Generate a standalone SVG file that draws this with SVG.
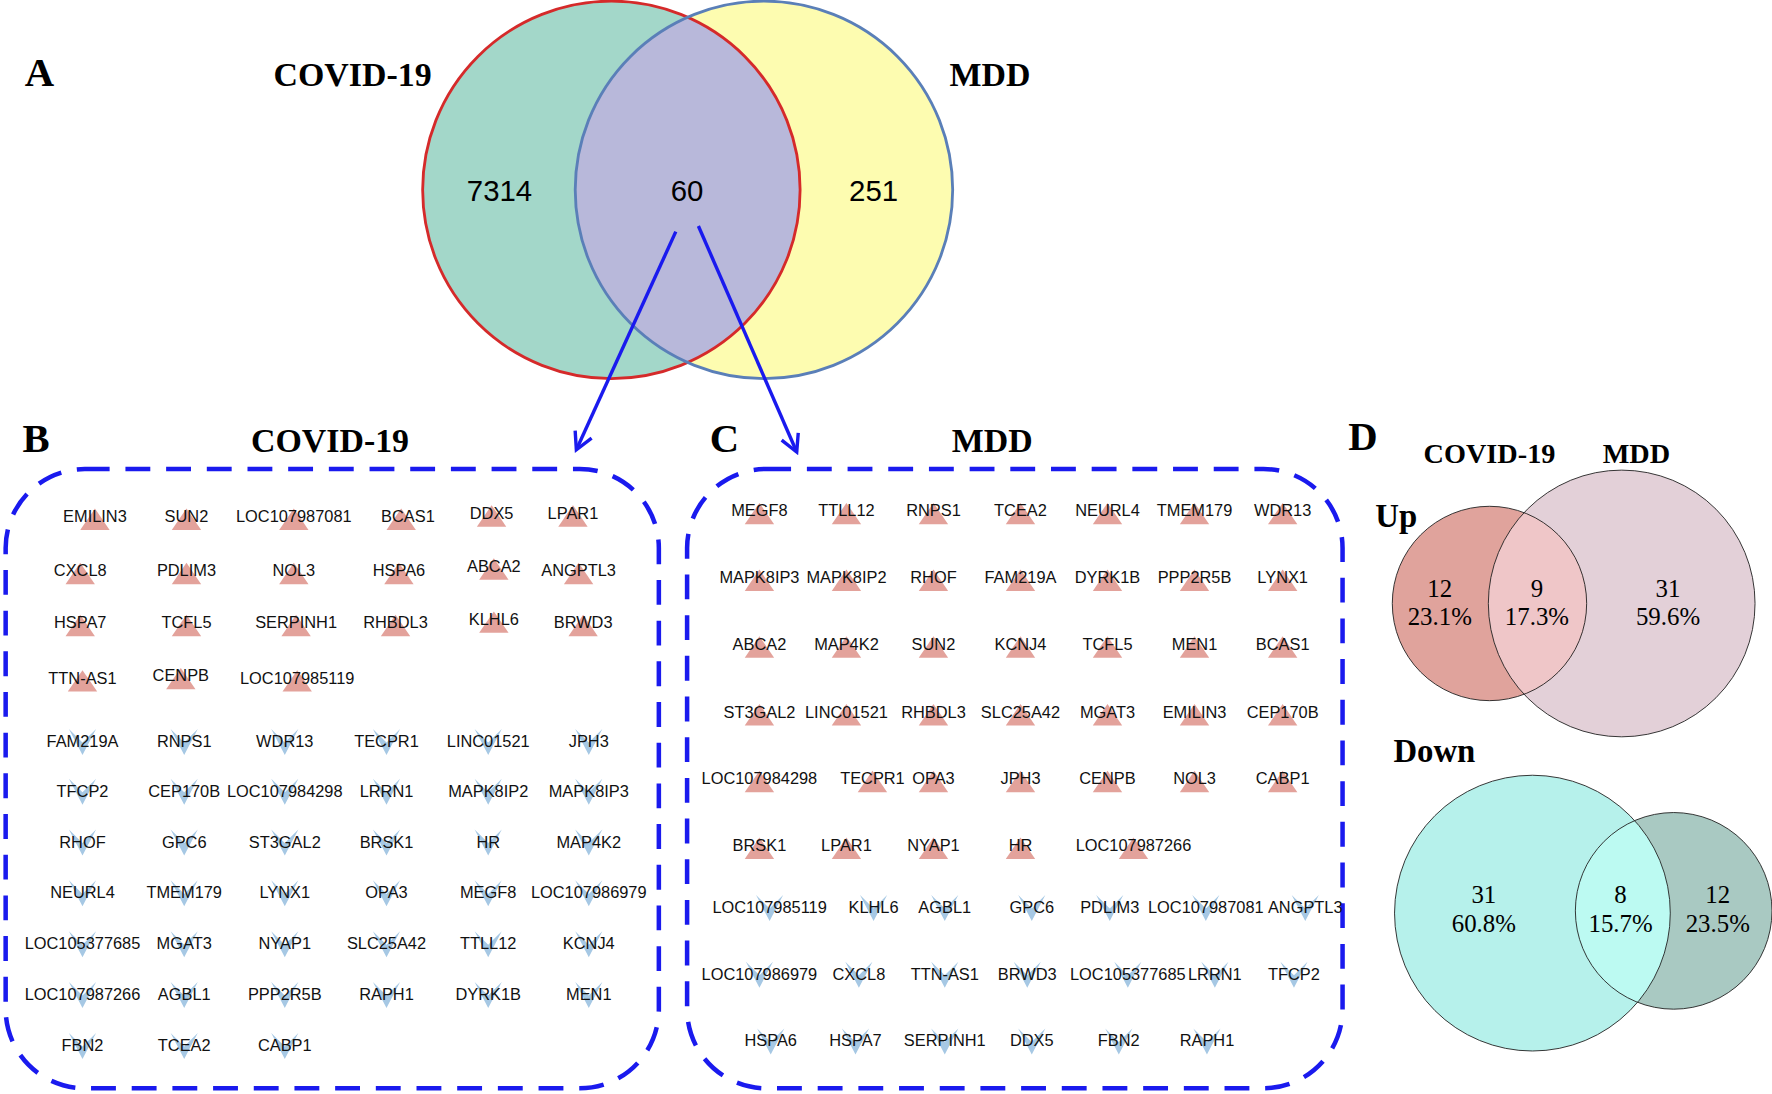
<svg xmlns="http://www.w3.org/2000/svg" xmlns:xlink="http://www.w3.org/1999/xlink" width="1772" height="1094" viewBox="0 0 1772 1094">
<style>
.lbl{font-family:"Liberation Serif",serif;font-weight:bold;fill:#000}
.num{font-family:"Liberation Sans",Arial,sans-serif;font-size:26px;text-anchor:middle}
.g{font-family:"Liberation Sans",Arial,sans-serif;font-size:14.5px;text-anchor:middle;fill:#111}
.d{font-family:"Liberation Serif",serif;font-size:22px;text-anchor:middle}
.box{fill:none;stroke:#1a1aee;stroke-width:4;stroke-dasharray:22 14}
.tri{fill:#e3a29b}
.dn{fill:#a6c8e4}
.vc{stroke:#222;stroke-width:0.8}
</style>
<defs>
<path id="t" class="tri" d="M0,-7 L13,12 L-13,12Z"/>
<path id="v" class="dn" d="M-12,-11 L0,12 L12,-11 L0,1Z"/>
<marker id="ah" markerWidth="20" markerHeight="20" refX="17" refY="10" orient="auto" markerUnits="userSpaceOnUse">
<path d="M2,2 L17,10 L2,18" fill="none" stroke="#1a1aee" stroke-width="3"/>
</marker>
<clipPath id="cA"><circle cx="541" cy="168" r="167"/></clipPath>
<clipPath id="cU"><circle cx="1318" cy="534" r="86"/></clipPath>
<clipPath id="cD"><circle cx="1356" cy="808" r="122"/></clipPath>
</defs>
<rect width="1772" height="1094" fill="#fff"/>
<g transform="scale(1.1301)">
<g id="panelA">
<text class="lbl" x="22" y="76" font-size="36">A</text>
<circle cx="541" cy="168" r="167" fill="#a3d7c9"/>
<circle cx="676" cy="168" r="167" fill="#fdfcb0"/>
<circle cx="676" cy="168" r="167" fill="#b8b8da" clip-path="url(#cA)"/>
<circle cx="541" cy="168" r="167" fill="none" stroke="#d52a2a" stroke-width="2.5"/>
<circle cx="676" cy="168" r="167" fill="none" stroke="#5a7fb8" stroke-width="2.5"/>
<text class="lbl" x="312" y="76" font-size="30" text-anchor="middle">COVID-19</text>
<text class="lbl" x="876" y="76" font-size="30" text-anchor="middle">MDD</text>
<text class="num" x="442" y="178">7314</text>
<text class="num" x="608" y="178">60</text>
<text class="num" x="773" y="178">251</text>
</g>
<g id="connectors" stroke="#1a1aee" stroke-width="3" fill="none">
<line x1="598" y1="205" x2="510" y2="398" marker-end="url(#ah)"/>
<line x1="618" y1="200" x2="705" y2="400" marker-end="url(#ah)"/>
</g>
<g id="panelB">
<text class="lbl" x="20" y="400" font-size="36">B</text>
<text class="lbl" x="292" y="400" font-size="30" text-anchor="middle">COVID-19</text>
<rect class="box" x="5" y="415" width="578" height="548" rx="70"/>
<g>
<use href="#t" x="84" y="457"/><use href="#t" x="165" y="457"/><use href="#t" x="260" y="457"/><use href="#t" x="355" y="457"/><use href="#t" x="435" y="454"/><use href="#t" x="507" y="454"/>
<use href="#t" x="71" y="505"/><use href="#t" x="165" y="505"/><use href="#t" x="260" y="505"/><use href="#t" x="353" y="505"/><use href="#t" x="437" y="501"/><use href="#t" x="512" y="505"/>
<use href="#t" x="71" y="551"/><use href="#t" x="165" y="551"/><use href="#t" x="262" y="551"/><use href="#t" x="350" y="551"/><use href="#t" x="437" y="548"/><use href="#t" x="516" y="551"/>
<use href="#t" x="73" y="600"/><use href="#t" x="160" y="598"/><use href="#t" x="263" y="600"/>
</g>
<g class="g">
<text x="84" y="462">EMILIN3</text><text x="165" y="462">SUN2</text><text x="260" y="462">LOC107987081</text><text x="361" y="462">BCAS1</text><text x="435" y="459">DDX5</text><text x="507" y="459">LPAR1</text>
<text x="71" y="510">CXCL8</text><text x="165" y="510">PDLIM3</text><text x="260" y="510">NOL3</text><text x="353" y="510">HSPA6</text><text x="437" y="506">ABCA2</text><text x="512" y="510">ANGPTL3</text>
<text x="71" y="556">HSPA7</text><text x="165" y="556">TCFL5</text><text x="262" y="556">SERPINH1</text><text x="350" y="556">RHBDL3</text><text x="437" y="553">KLHL6</text><text x="516" y="556">BRWD3</text>
<text x="73" y="605">TTN-AS1</text><text x="160" y="603">CENPB</text><text x="263" y="605">LOC107985119</text>
</g>
<g>
<use href="#v" x="73" y="656"/><use href="#v" x="163" y="656"/><use href="#v" x="252" y="656"/><use href="#v" x="342" y="656"/><use href="#v" x="432" y="656"/><use href="#v" x="521" y="656"/>
<use href="#v" x="73" y="700"/><use href="#v" x="163" y="700"/><use href="#v" x="252" y="700"/><use href="#v" x="342" y="700"/><use href="#v" x="432" y="700"/><use href="#v" x="521" y="700"/>
<use href="#v" x="73" y="745"/><use href="#v" x="163" y="745"/><use href="#v" x="252" y="745"/><use href="#v" x="342" y="745"/><use href="#v" x="432" y="745"/><use href="#v" x="521" y="745"/>
<use href="#v" x="73" y="790"/><use href="#v" x="163" y="790"/><use href="#v" x="252" y="790"/><use href="#v" x="342" y="790"/><use href="#v" x="432" y="790"/><use href="#v" x="521" y="790"/>
<use href="#v" x="73" y="835"/><use href="#v" x="163" y="835"/><use href="#v" x="252" y="835"/><use href="#v" x="342" y="835"/><use href="#v" x="432" y="835"/><use href="#v" x="521" y="835"/>
<use href="#v" x="73" y="880"/><use href="#v" x="163" y="880"/><use href="#v" x="252" y="880"/><use href="#v" x="342" y="880"/><use href="#v" x="432" y="880"/><use href="#v" x="521" y="880"/>
<use href="#v" x="73" y="925"/><use href="#v" x="163" y="925"/><use href="#v" x="252" y="925"/>
</g>
<g class="g">
<text x="73" y="661">FAM219A</text><text x="163" y="661">RNPS1</text><text x="252" y="661">WDR13</text><text x="342" y="661">TECPR1</text><text x="432" y="661">LINC01521</text><text x="521" y="661">JPH3</text>
<text x="73" y="705">TFCP2</text><text x="163" y="705">CEP170B</text><text x="252" y="705">LOC107984298</text><text x="342" y="705">LRRN1</text><text x="432" y="705">MAPK8IP2</text><text x="521" y="705">MAPK8IP3</text>
<text x="73" y="750">RHOF</text><text x="163" y="750">GPC6</text><text x="252" y="750">ST3GAL2</text><text x="342" y="750">BRSK1</text><text x="432" y="750">HR</text><text x="521" y="750">MAP4K2</text>
<text x="73" y="795">NEURL4</text><text x="163" y="795">TMEM179</text><text x="252" y="795">LYNX1</text><text x="342" y="795">OPA3</text><text x="432" y="795">MEGF8</text><text x="521" y="795">LOC107986979</text>
<text x="73" y="840">LOC105377685</text><text x="163" y="840">MGAT3</text><text x="252" y="840">NYAP1</text><text x="342" y="840">SLC25A42</text><text x="432" y="840">TTLL12</text><text x="521" y="840">KCNJ4</text>
<text x="73" y="885">LOC107987266</text><text x="163" y="885">AGBL1</text><text x="252" y="885">PPP2R5B</text><text x="342" y="885">RAPH1</text><text x="432" y="885">DYRK1B</text><text x="521" y="885">MEN1</text>
<text x="73" y="930">FBN2</text><text x="163" y="930">TCEA2</text><text x="252" y="930">CABP1</text>
</g>
</g>
<g id="panelC">
<text class="lbl" x="628" y="400" font-size="36">C</text>
<text class="lbl" x="878" y="400" font-size="30" text-anchor="middle">MDD</text>
<rect class="box" x="608" y="415" width="580" height="548" rx="70"/>
<g>
<use href="#t" x="672" y="452"/><use href="#t" x="749" y="452"/><use href="#t" x="826" y="452"/><use href="#t" x="903" y="452"/><use href="#t" x="980" y="452"/><use href="#t" x="1057" y="452"/><use href="#t" x="1135" y="452"/>
<use href="#t" x="672" y="511"/><use href="#t" x="749" y="511"/><use href="#t" x="826" y="511"/><use href="#t" x="903" y="511"/><use href="#t" x="980" y="511"/><use href="#t" x="1057" y="511"/><use href="#t" x="1135" y="511"/>
<use href="#t" x="672" y="570"/><use href="#t" x="749" y="570"/><use href="#t" x="826" y="570"/><use href="#t" x="903" y="570"/><use href="#t" x="980" y="570"/><use href="#t" x="1057" y="570"/><use href="#t" x="1135" y="570"/>
<use href="#t" x="672" y="630"/><use href="#t" x="749" y="630"/><use href="#t" x="826" y="630"/><use href="#t" x="903" y="630"/><use href="#t" x="980" y="630"/><use href="#t" x="1057" y="630"/><use href="#t" x="1135" y="630"/>
<use href="#t" x="672" y="689"/><use href="#t" x="772" y="689"/><use href="#t" x="826" y="689"/><use href="#t" x="903" y="689"/><use href="#t" x="980" y="689"/><use href="#t" x="1057" y="689"/><use href="#t" x="1135" y="689"/>
<use href="#t" x="672" y="748"/><use href="#t" x="749" y="748"/><use href="#t" x="826" y="748"/><use href="#t" x="903" y="748"/><use href="#t" x="1003" y="748"/>
</g>
<g class="g">
<text x="672" y="457">MEGF8</text><text x="749" y="457">TTLL12</text><text x="826" y="457">RNPS1</text><text x="903" y="457">TCEA2</text><text x="980" y="457">NEURL4</text><text x="1057" y="457">TMEM179</text><text x="1135" y="457">WDR13</text>
<text x="672" y="516">MAPK8IP3</text><text x="749" y="516">MAPK8IP2</text><text x="826" y="516">RHOF</text><text x="903" y="516">FAM219A</text><text x="980" y="516">DYRK1B</text><text x="1057" y="516">PPP2R5B</text><text x="1135" y="516">LYNX1</text>
<text x="672" y="575">ABCA2</text><text x="749" y="575">MAP4K2</text><text x="826" y="575">SUN2</text><text x="903" y="575">KCNJ4</text><text x="980" y="575">TCFL5</text><text x="1057" y="575">MEN1</text><text x="1135" y="575">BCAS1</text>
<text x="672" y="635">ST3GAL2</text><text x="749" y="635">LINC01521</text><text x="826" y="635">RHBDL3</text><text x="903" y="635">SLC25A42</text><text x="980" y="635">MGAT3</text><text x="1057" y="635">EMILIN3</text><text x="1135" y="635">CEP170B</text>
<text x="672" y="694">LOC107984298</text><text x="772" y="694">TECPR1</text><text x="826" y="694">OPA3</text><text x="903" y="694">JPH3</text><text x="980" y="694">CENPB</text><text x="1057" y="694">NOL3</text><text x="1135" y="694">CABP1</text>
<text x="672" y="753">BRSK1</text><text x="749" y="753">LPAR1</text><text x="826" y="753">NYAP1</text><text x="903" y="753">HR</text><text x="1003" y="753">LOC107987266</text>
</g>
<g>
<use href="#v" x="681" y="803"/><use href="#v" x="773" y="803"/><use href="#v" x="836" y="803"/><use href="#v" x="913" y="803"/><use href="#v" x="982" y="803"/><use href="#v" x="1067" y="803"/><use href="#v" x="1155" y="803"/>
<use href="#v" x="672" y="862"/><use href="#v" x="760" y="862"/><use href="#v" x="836" y="862"/><use href="#v" x="909" y="862"/><use href="#v" x="998" y="862"/><use href="#v" x="1075" y="862"/><use href="#v" x="1145" y="862"/>
<use href="#v" x="682" y="921"/><use href="#v" x="757" y="921"/><use href="#v" x="836" y="921"/><use href="#v" x="913" y="921"/><use href="#v" x="990" y="921"/><use href="#v" x="1068" y="921"/>
</g>
<g class="g">
<text x="681" y="808">LOC107985119</text><text x="773" y="808">KLHL6</text><text x="836" y="808">AGBL1</text><text x="913" y="808">GPC6</text><text x="982" y="808">PDLIM3</text><text x="1067" y="808">LOC107987081</text><text x="1155" y="808">ANGPTL3</text>
<text x="672" y="867">LOC107986979</text><text x="760" y="867">CXCL8</text><text x="836" y="867">TTN-AS1</text><text x="909" y="867">BRWD3</text><text x="998" y="867">LOC105377685</text><text x="1075" y="867">LRRN1</text><text x="1145" y="867">TFCP2</text>
<text x="682" y="926">HSPA6</text><text x="757" y="926">HSPA7</text><text x="836" y="926">SERPINH1</text><text x="913" y="926">DDX5</text><text x="990" y="926">FBN2</text><text x="1068" y="926">RAPH1</text>
</g>
</g>
<g id="panelD">
<text class="lbl" x="1193" y="398" font-size="36">D</text>
<text class="lbl" x="1318" y="410" font-size="25" text-anchor="middle">COVID-19</text>
<text class="lbl" x="1448" y="410" font-size="25" text-anchor="middle">MDD</text>
<text class="lbl" x="1217" y="466" font-size="29">Up</text>
<circle cx="1435" cy="534" r="118" fill="#e3d0d8"/>
<circle cx="1318" cy="534" r="86" fill="#e0a39c"/>
<circle cx="1435" cy="534" r="118" fill="#efc6c8" clip-path="url(#cU)"/>
<circle class="vc" cx="1318" cy="534" r="86" fill="none"/>
<circle class="vc" cx="1435" cy="534" r="118" fill="none"/>
<text class="d" x="1274" y="528">12</text><text class="d" x="1274" y="553">23.1%</text>
<text class="d" x="1360" y="528">9</text><text class="d" x="1360" y="553">17.3%</text>
<text class="d" x="1476" y="528">31</text><text class="d" x="1476" y="553">59.6%</text>
<text class="lbl" x="1233" y="674" font-size="29">Down</text>
<circle cx="1481" cy="806" r="87" fill="#a9c9c2"/>
<circle cx="1356" cy="808" r="122" fill="#b6f1eb"/>
<circle cx="1481" cy="806" r="87" fill="#bcfaf2" clip-path="url(#cD)"/>
<circle class="vc" cx="1356" cy="808" r="122" fill="none"/>
<circle class="vc" cx="1481" cy="806" r="87" fill="none"/>
<text class="d" x="1313" y="799">31</text><text class="d" x="1313" y="825">60.8%</text>
<text class="d" x="1434" y="799">8</text><text class="d" x="1434" y="825">15.7%</text>
<text class="d" x="1520" y="799">12</text><text class="d" x="1520" y="825">23.5%</text>
</g>
</g>
</svg>
